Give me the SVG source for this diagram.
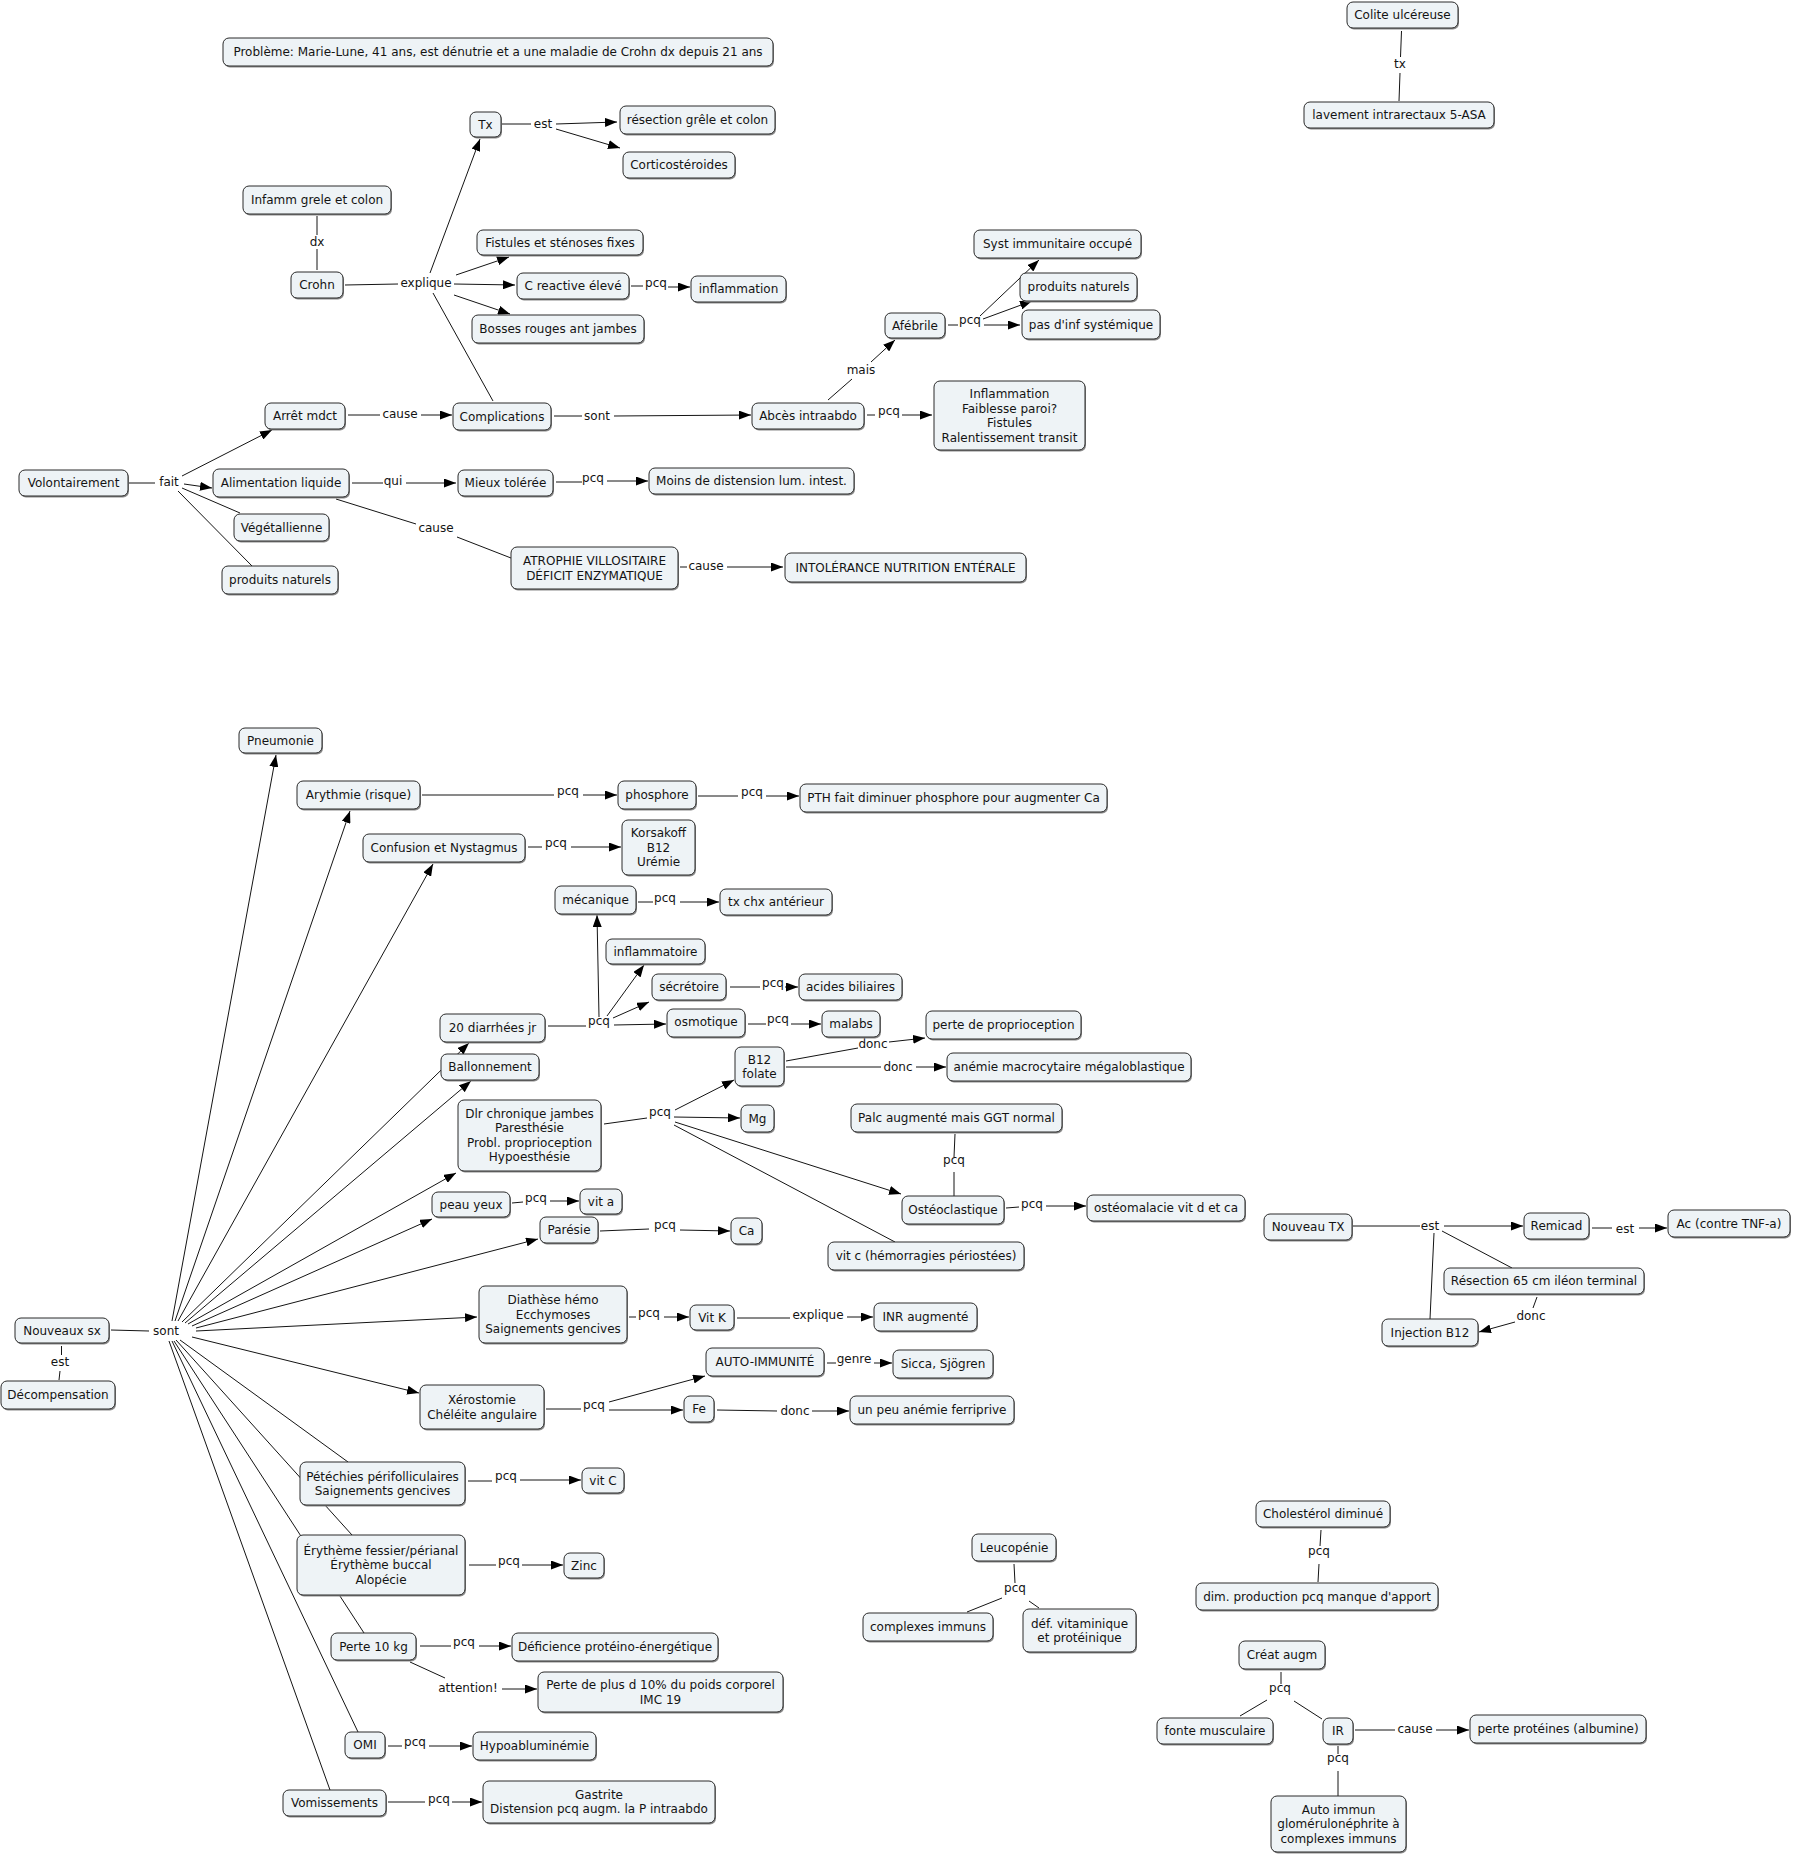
<svg xmlns="http://www.w3.org/2000/svg" width="1793" height="1855" viewBox="0 0 1793 1855">
<style>
text{font-family:"DejaVu Sans","Verdana",sans-serif;font-size:12px;fill:#141414}
.n text,.l{text-anchor:middle}
.b{fill:#EEF3F6;stroke:#2a2a2a;stroke-width:1}
.s{fill:#8a8a8a}
.c line{stroke:#141414;stroke-width:1;fill:none}
.c line.a{marker-end:url(#ar)}
</style>
<defs>
<marker id="ar" markerWidth="12" markerHeight="9" refX="12" refY="4.5" orient="auto" markerUnits="userSpaceOnUse"><path d="M0,0 L12,4.5 L0,9 z" fill="#000"/></marker>
</defs>
<rect width="1793" height="1855" fill="#fff"/>
<g id="connectors" class="c">
<line x1="502" y1="124" x2="531" y2="124"/>
<line class="a" x1="556" y1="124" x2="617" y2="122"/>
<line class="a" x1="556" y1="129" x2="620" y2="148"/>
<line x1="317" y1="216" x2="317" y2="235"/>
<line x1="317" y1="249" x2="317" y2="270"/>
<line x1="345" y1="285" x2="398" y2="284"/>
<line class="a" x1="430" y1="273" x2="480" y2="139"/>
<line class="a" x1="456" y1="275" x2="509" y2="257"/>
<line class="a" x1="454" y1="284" x2="515" y2="285"/>
<line class="a" x1="454" y1="295" x2="510" y2="314"/>
<line x1="493" y1="401" x2="433" y2="293"/>
<line x1="631" y1="286" x2="643" y2="286"/>
<line class="a" x1="668" y1="287" x2="690" y2="287"/>
<line x1="348" y1="415" x2="380" y2="415"/>
<line class="a" x1="421" y1="415" x2="452" y2="415"/>
<line x1="554" y1="416" x2="582" y2="416"/>
<line class="a" x1="614" y1="416" x2="751" y2="415"/>
<line x1="129" y1="483" x2="155" y2="483"/>
<line class="a" x1="182" y1="476" x2="272" y2="430"/>
<line class="a" x1="184" y1="484" x2="212" y2="488"/>
<line x1="182" y1="488" x2="240" y2="513"/>
<line x1="178" y1="491" x2="252" y2="566"/>
<line x1="352" y1="483" x2="383" y2="483"/>
<line class="a" x1="406" y1="483" x2="456" y2="483"/>
<line x1="556" y1="482" x2="582" y2="482"/>
<line class="a" x1="607" y1="481" x2="648" y2="481"/>
<line x1="336" y1="499" x2="416" y2="524"/>
<line x1="457" y1="537" x2="511" y2="558"/>
<line x1="680" y1="567" x2="687" y2="567"/>
<line class="a" x1="727" y1="567" x2="783" y2="567"/>
<line x1="828" y1="400" x2="852" y2="379"/>
<line class="a" x1="871" y1="362" x2="895" y2="340"/>
<line x1="867" y1="415" x2="875" y2="415"/>
<line class="a" x1="902" y1="415" x2="932" y2="415"/>
<line x1="948" y1="325" x2="958" y2="325"/>
<line class="a" x1="980" y1="316" x2="1039" y2="260"/>
<line class="a" x1="983" y1="319" x2="1032" y2="301"/>
<line class="a" x1="984" y1="325" x2="1020" y2="325"/>
<line x1="1401.5" y1="31" x2="1400.5" y2="57"/>
<line x1="1400" y1="73" x2="1399" y2="101"/>
<line x1="111" y1="1330" x2="149" y2="1331"/>
<line x1="61.5" y1="1346" x2="61.5" y2="1355"/>
<line x1="60" y1="1371" x2="59" y2="1380"/>
<line class="a" x1="172" y1="1321" x2="276" y2="755"/>
<line class="a" x1="175" y1="1321" x2="350" y2="811"/>
<line class="a" x1="178" y1="1321" x2="433" y2="864"/>
<line class="a" x1="182" y1="1322" x2="469" y2="1043"/>
<line class="a" x1="185" y1="1323" x2="471" y2="1081"/>
<line class="a" x1="188" y1="1324" x2="456" y2="1173"/>
<line class="a" x1="192" y1="1326" x2="432" y2="1219"/>
<line class="a" x1="196" y1="1328" x2="538" y2="1239"/>
<line class="a" x1="196" y1="1331" x2="477" y2="1317"/>
<line class="a" x1="192" y1="1337" x2="419" y2="1393"/>
<line x1="180" y1="1340" x2="348" y2="1462"/>
<line x1="176" y1="1340" x2="352" y2="1535"/>
<line x1="174" y1="1341" x2="364" y2="1633"/>
<line x1="172" y1="1341" x2="358" y2="1732"/>
<line x1="169" y1="1341" x2="330" y2="1790"/>
<line x1="422" y1="795" x2="554" y2="795"/>
<line class="a" x1="583" y1="795" x2="617" y2="795"/>
<line x1="698" y1="796" x2="738" y2="796"/>
<line class="a" x1="766" y1="796" x2="799" y2="796"/>
<line x1="528" y1="847" x2="542" y2="847"/>
<line class="a" x1="571" y1="847" x2="621" y2="847"/>
<line x1="638" y1="902" x2="653" y2="902"/>
<line class="a" x1="680" y1="902" x2="719" y2="902"/>
<line x1="548" y1="1026" x2="586" y2="1026"/>
<line class="a" x1="599" y1="1017" x2="597" y2="915"/>
<line class="a" x1="607" y1="1016" x2="644" y2="965"/>
<line class="a" x1="613" y1="1018" x2="649" y2="1002"/>
<line class="a" x1="614" y1="1025" x2="666" y2="1024"/>
<line x1="730" y1="987" x2="760" y2="987"/>
<line class="a" x1="785" y1="987" x2="798" y2="987"/>
<line x1="748" y1="1024" x2="766" y2="1024"/>
<line class="a" x1="791" y1="1024" x2="821" y2="1024"/>
<line x1="786" y1="1061" x2="858" y2="1048"/>
<line class="a" x1="889" y1="1042" x2="925" y2="1038"/>
<line x1="786" y1="1067" x2="881" y2="1067"/>
<line class="a" x1="916" y1="1067" x2="946" y2="1067"/>
<line x1="604" y1="1124" x2="647" y2="1118"/>
<line class="a" x1="675" y1="1110" x2="734" y2="1080"/>
<line class="a" x1="674" y1="1117" x2="740" y2="1118"/>
<line class="a" x1="675" y1="1122" x2="901" y2="1194"/>
<line x1="674" y1="1125" x2="895" y2="1242"/>
<line x1="955" y1="1134" x2="954" y2="1157"/>
<line x1="954" y1="1172" x2="954" y2="1196"/>
<line x1="1006" y1="1208" x2="1019" y2="1207"/>
<line class="a" x1="1046" y1="1206" x2="1086" y2="1206"/>
<line x1="512" y1="1203" x2="523" y2="1202"/>
<line class="a" x1="550" y1="1201" x2="579" y2="1201"/>
<line x1="600" y1="1231" x2="649" y2="1229"/>
<line class="a" x1="680" y1="1230" x2="730" y2="1231"/>
<line x1="629" y1="1317" x2="636" y2="1317"/>
<line class="a" x1="664" y1="1317" x2="689" y2="1317"/>
<line x1="737" y1="1318" x2="790" y2="1318"/>
<line class="a" x1="847" y1="1317" x2="873" y2="1317"/>
<line x1="546" y1="1409" x2="581" y2="1409"/>
<line class="a" x1="609" y1="1402" x2="705" y2="1376"/>
<line class="a" x1="609" y1="1410" x2="683" y2="1410"/>
<line x1="827" y1="1363" x2="836" y2="1363"/>
<line class="a" x1="874" y1="1363" x2="892" y2="1363"/>
<line x1="717" y1="1410" x2="777" y2="1411"/>
<line class="a" x1="812" y1="1411" x2="849" y2="1411"/>
<line x1="468" y1="1481" x2="492" y2="1481"/>
<line class="a" x1="520" y1="1480" x2="581" y2="1480"/>
<line x1="469" y1="1565" x2="496" y2="1565"/>
<line class="a" x1="522" y1="1565" x2="563" y2="1565"/>
<line x1="420" y1="1646" x2="451" y2="1646"/>
<line class="a" x1="479" y1="1646" x2="511" y2="1646"/>
<line x1="410" y1="1662" x2="445" y2="1678"/>
<line class="a" x1="502" y1="1689" x2="537" y2="1689"/>
<line x1="388" y1="1746" x2="402" y2="1746"/>
<line class="a" x1="429" y1="1746" x2="472" y2="1746"/>
<line x1="388" y1="1802" x2="425" y2="1802"/>
<line class="a" x1="452" y1="1802" x2="482" y2="1802"/>
<line x1="1353" y1="1226" x2="1420" y2="1226"/>
<line class="a" x1="1444" y1="1226" x2="1523" y2="1226"/>
<line x1="1442" y1="1231" x2="1512" y2="1268"/>
<line x1="1434" y1="1233" x2="1430" y2="1319"/>
<line x1="1592" y1="1228" x2="1612" y2="1228"/>
<line class="a" x1="1639" y1="1228" x2="1667" y2="1228"/>
<line x1="1537" y1="1297" x2="1533" y2="1308"/>
<line class="a" x1="1515" y1="1322" x2="1479" y2="1332"/>
<line x1="1014" y1="1564" x2="1015" y2="1583"/>
<line x1="1002" y1="1598" x2="967" y2="1612"/>
<line x1="1029" y1="1601" x2="1039" y2="1608"/>
<line x1="1321" y1="1530" x2="1320" y2="1546"/>
<line x1="1319" y1="1564" x2="1318" y2="1582"/>
<line x1="1281" y1="1672" x2="1281" y2="1684"/>
<line x1="1267" y1="1700" x2="1240" y2="1716"/>
<line x1="1294" y1="1701" x2="1322" y2="1719"/>
<line x1="1355" y1="1730" x2="1395" y2="1730"/>
<line class="a" x1="1436" y1="1730" x2="1469" y2="1730"/>
<line x1="1338" y1="1746" x2="1338" y2="1754"/>
<line x1="1338" y1="1771" x2="1338" y2="1796"/>
</g>
<g id="labels" class="l">
<text class="l" x="543" y="128">est</text>
<text class="l" x="317" y="246">dx</text>
<text class="l" x="426" y="287">explique</text>
<text class="l" x="656" y="287">pcq</text>
<text class="l" x="400" y="418">cause</text>
<text class="l" x="597" y="420">sont</text>
<text class="l" x="169" y="486">fait</text>
<text class="l" x="393" y="485">qui</text>
<text class="l" x="593" y="482">pcq</text>
<text class="l" x="436" y="532">cause</text>
<text class="l" x="706" y="570">cause</text>
<text class="l" x="861" y="374">mais</text>
<text class="l" x="889" y="415">pcq</text>
<text class="l" x="970" y="324">pcq</text>
<text class="l" x="1400" y="68">tx</text>
<text class="l" x="568" y="795">pcq</text>
<text class="l" x="752" y="796">pcq</text>
<text class="l" x="556" y="847">pcq</text>
<text class="l" x="665" y="902">pcq</text>
<text class="l" x="599" y="1025">pcq</text>
<text class="l" x="773" y="987">pcq</text>
<text class="l" x="778" y="1023">pcq</text>
<text class="l" x="873" y="1048">donc</text>
<text class="l" x="898" y="1071">donc</text>
<text class="l" x="660" y="1116">pcq</text>
<text class="l" x="954" y="1164">pcq</text>
<text class="l" x="1032" y="1208">pcq</text>
<text class="l" x="536" y="1202">pcq</text>
<text class="l" x="665" y="1229">pcq</text>
<text class="l" x="649" y="1317">pcq</text>
<text class="l" x="818" y="1319">explique</text>
<text class="l" x="60" y="1366">est</text>
<text class="l" x="166" y="1335">sont</text>
<text class="l" x="854" y="1363">genre</text>
<text class="l" x="594" y="1409">pcq</text>
<text class="l" x="795" y="1415">donc</text>
<text class="l" x="506" y="1480">pcq</text>
<text class="l" x="509" y="1565">pcq</text>
<text class="l" x="464" y="1646">pcq</text>
<text class="l" x="468" y="1692">attention!</text>
<text class="l" x="415" y="1746">pcq</text>
<text class="l" x="439" y="1803">pcq</text>
<text class="l" x="1430" y="1230">est</text>
<text class="l" x="1625" y="1233">est</text>
<text class="l" x="1531" y="1320">donc</text>
<text class="l" x="1015" y="1592">pcq</text>
<text class="l" x="1319" y="1555">pcq</text>
<text class="l" x="1280" y="1692">pcq</text>
<text class="l" x="1415" y="1733">cause</text>
<text class="l" x="1338" y="1762">pcq</text>
</g>
<g id="n_probleme" class="n"><rect class="s" x="224" y="39.5" width="550" height="28" rx="6"/><rect class="b" x="223" y="38" width="550" height="28" rx="6"/><text x="498" y="56.4">Problème: Marie-Lune, 41 ans, est dénutrie et a une maladie de Crohn dx depuis 21 ans</text></g>
<g id="n_tx" class="n"><rect class="s" x="471" y="113.5" width="31" height="25" rx="6"/><rect class="b" x="470" y="112" width="31" height="25" rx="6"/><text x="485.5" y="129">Tx</text></g>
<g id="n_resection" class="n"><rect class="s" x="621" y="107.5" width="155" height="28" rx="6"/><rect class="b" x="620" y="106" width="155" height="28" rx="6"/><text x="697.5" y="124.4">résection grêle et colon</text></g>
<g id="n_cortico" class="n"><rect class="s" x="624" y="153.5" width="112" height="26" rx="6"/><rect class="b" x="623" y="152" width="112" height="26" rx="6"/><text x="679" y="169.4">Corticostéroides</text></g>
<g id="n_infamm" class="n"><rect class="s" x="244" y="187.5" width="148" height="28" rx="6"/><rect class="b" x="243" y="186" width="148" height="28" rx="6"/><text x="317" y="204.4">Infamm grele et colon</text></g>
<g id="n_crohn" class="n"><rect class="s" x="292" y="273.5" width="52" height="26" rx="6"/><rect class="b" x="291" y="272" width="52" height="26" rx="6"/><text x="317" y="289.4">Crohn</text></g>
<g id="n_fistules" class="n"><rect class="s" x="478" y="231.5" width="166" height="25" rx="6"/><rect class="b" x="477" y="230" width="166" height="25" rx="6"/><text x="560" y="247">Fistules et sténoses fixes</text></g>
<g id="n_creactive" class="n"><rect class="s" x="518" y="274.5" width="112" height="26" rx="6"/><rect class="b" x="517" y="273" width="112" height="26" rx="6"/><text x="573" y="290.4">C reactive élevé</text></g>
<g id="n_inflammation" class="n"><rect class="s" x="692" y="277.5" width="95" height="26" rx="6"/><rect class="b" x="691" y="276" width="95" height="26" rx="6"/><text x="738.5" y="293.4">inflammation</text></g>
<g id="n_bosses" class="n"><rect class="s" x="473" y="316.5" width="172" height="28" rx="6"/><rect class="b" x="472" y="315" width="172" height="28" rx="6"/><text x="558" y="333.4">Bosses rouges ant jambes</text></g>
<g id="n_arret" class="n"><rect class="s" x="266" y="404.5" width="80" height="26" rx="6"/><rect class="b" x="265" y="403" width="80" height="26" rx="6"/><text x="305" y="420.4">Arrêt mdct</text></g>
<g id="n_complications" class="n"><rect class="s" x="454" y="404.5" width="98" height="27" rx="6"/><rect class="b" x="453" y="403" width="98" height="27" rx="6"/><text x="502" y="421">Complications</text></g>
<g id="n_abces" class="n"><rect class="s" x="753" y="404.5" width="112" height="26" rx="6"/><rect class="b" x="752" y="403" width="112" height="26" rx="6"/><text x="808" y="420.4">Abcès intraabdo</text></g>
<g id="n_inflam4" class="n"><rect class="s" x="935" y="382.5" width="151" height="69" rx="6"/><rect class="b" x="934" y="381" width="151" height="69" rx="6"/><text x="1009.5" y="398.2">Inflammation<tspan x="1009.5" dy="14.5">Faiblesse paroi?</tspan><tspan x="1009.5" dy="14.5">Fistules</tspan><tspan x="1009.5" dy="14.5">Ralentissement transit</tspan></text></g>
<g id="n_afebrile" class="n"><rect class="s" x="886" y="314.5" width="60" height="25" rx="6"/><rect class="b" x="885" y="313" width="60" height="25" rx="6"/><text x="915" y="330">Afébrile</text></g>
<g id="n_syst" class="n"><rect class="s" x="975" y="231.5" width="167" height="28" rx="6"/><rect class="b" x="974" y="230" width="167" height="28" rx="6"/><text x="1057.5" y="248.4">Syst immunitaire occupé</text></g>
<g id="n_prodnat2" class="n"><rect class="s" x="1021" y="274.5" width="117" height="28" rx="6"/><rect class="b" x="1020" y="273" width="117" height="28" rx="6"/><text x="1078.5" y="291.4">produits naturels</text></g>
<g id="n_pasdinf" class="n"><rect class="s" x="1023" y="311.5" width="138" height="29" rx="6"/><rect class="b" x="1022" y="310" width="138" height="29" rx="6"/><text x="1091" y="329">pas d'inf systémique</text></g>
<g id="n_volontairement" class="n"><rect class="s" x="20" y="471.5" width="109" height="26" rx="6"/><rect class="b" x="19" y="470" width="109" height="26" rx="6"/><text x="73.5" y="487.4">Volontairement</text></g>
<g id="n_alimentation" class="n"><rect class="s" x="214" y="470.5" width="136" height="28" rx="6"/><rect class="b" x="213" y="469" width="136" height="28" rx="6"/><text x="281" y="487.4">Alimentation liquide</text></g>
<g id="n_mieux" class="n"><rect class="s" x="459" y="471.5" width="95" height="26" rx="6"/><rect class="b" x="458" y="470" width="95" height="26" rx="6"/><text x="505.5" y="487.4">Mieux tolérée</text></g>
<g id="n_moins" class="n"><rect class="s" x="650" y="469.5" width="205" height="26" rx="6"/><rect class="b" x="649" y="468" width="205" height="26" rx="6"/><text x="751.5" y="485.4">Moins de distension lum. intest.</text></g>
<g id="n_vegetal" class="n"><rect class="s" x="235" y="515.5" width="95" height="27" rx="6"/><rect class="b" x="234" y="514" width="95" height="27" rx="6"/><text x="281.5" y="532">Végétallienne</text></g>
<g id="n_prodnat1" class="n"><rect class="s" x="223" y="567.5" width="116" height="28" rx="6"/><rect class="b" x="222" y="566" width="116" height="28" rx="6"/><text x="280" y="584.4">produits naturels</text></g>
<g id="n_atrophie" class="n"><rect class="s" x="512" y="548.5" width="167" height="42" rx="6"/><rect class="b" x="511" y="547" width="167" height="42" rx="6"/><text x="594.5" y="565.2">ATROPHIE VILLOSITAIRE<tspan x="594.5" dy="14.5">DÉFICIT ENZYMATIQUE</tspan></text></g>
<g id="n_intolerance" class="n"><rect class="s" x="786" y="554.5" width="241" height="29" rx="6"/><rect class="b" x="785" y="553" width="241" height="29" rx="6"/><text x="905.5" y="572">INTOLÉRANCE NUTRITION ENTÉRALE</text></g>
<g id="n_colite" class="n"><rect class="s" x="1348" y="3.5" width="111" height="26" rx="6"/><rect class="b" x="1347" y="2" width="111" height="26" rx="6"/><text x="1402.5" y="19.4">Colite ulcéreuse</text></g>
<g id="n_lavement" class="n"><rect class="s" x="1305" y="103.5" width="190" height="26" rx="6"/><rect class="b" x="1304" y="102" width="190" height="26" rx="6"/><text x="1399" y="119.4">lavement intrarectaux 5-ASA</text></g>
<g id="n_pneumonie" class="n"><rect class="s" x="240" y="729.5" width="83" height="25" rx="6"/><rect class="b" x="239" y="728" width="83" height="25" rx="6"/><text x="280.5" y="745">Pneumonie</text></g>
<g id="n_arythmie" class="n"><rect class="s" x="298" y="782.5" width="123" height="28" rx="6"/><rect class="b" x="297" y="781" width="123" height="28" rx="6"/><text x="358.5" y="799.4">Arythmie (risque)</text></g>
<g id="n_phosphore" class="n"><rect class="s" x="619" y="782.5" width="78" height="28" rx="6"/><rect class="b" x="618" y="781" width="78" height="28" rx="6"/><text x="657" y="799.4">phosphore</text></g>
<g id="n_pth" class="n"><rect class="s" x="801" y="785.5" width="307" height="28" rx="6"/><rect class="b" x="800" y="784" width="307" height="28" rx="6"/><text x="953.5" y="802.4">PTH fait diminuer phosphore pour augmenter Ca</text></g>
<g id="n_confusion" class="n"><rect class="s" x="364" y="835.5" width="162" height="28" rx="6"/><rect class="b" x="363" y="834" width="162" height="28" rx="6"/><text x="444" y="852.4">Confusion et Nystagmus</text></g>
<g id="n_korsakoff" class="n"><rect class="s" x="623" y="821.5" width="73" height="55" rx="6"/><rect class="b" x="622" y="820" width="73" height="55" rx="6"/><text x="658.5" y="837.4">Korsakoff<tspan x="658.5" dy="14.5">B12</tspan><tspan x="658.5" dy="14.5">Urémie</tspan></text></g>
<g id="n_mecanique" class="n"><rect class="s" x="556" y="887.5" width="81" height="28" rx="6"/><rect class="b" x="555" y="886" width="81" height="28" rx="6"/><text x="595.5" y="904.4">mécanique</text></g>
<g id="n_txchx" class="n"><rect class="s" x="721" y="890.5" width="112" height="26" rx="6"/><rect class="b" x="720" y="889" width="112" height="26" rx="6"/><text x="776" y="906.4">tx chx antérieur</text></g>
<g id="n_inflammatoire" class="n"><rect class="s" x="607" y="940.5" width="99" height="25" rx="6"/><rect class="b" x="606" y="939" width="99" height="25" rx="6"/><text x="655.5" y="956">inflammatoire</text></g>
<g id="n_secretoire" class="n"><rect class="s" x="653" y="975.5" width="74" height="26" rx="6"/><rect class="b" x="652" y="974" width="74" height="26" rx="6"/><text x="689" y="991.4">sécrétoire</text></g>
<g id="n_acides" class="n"><rect class="s" x="800" y="975.5" width="103" height="26" rx="6"/><rect class="b" x="799" y="974" width="103" height="26" rx="6"/><text x="850.5" y="991.4">acides biliaires</text></g>
<g id="n_osmotique" class="n"><rect class="s" x="668" y="1010.5" width="78" height="28" rx="6"/><rect class="b" x="667" y="1009" width="78" height="28" rx="6"/><text x="706" y="1026.4">osmotique</text></g>
<g id="n_malabs" class="n"><rect class="s" x="823" y="1012.5" width="58" height="26" rx="6"/><rect class="b" x="822" y="1011" width="58" height="26" rx="6"/><text x="851" y="1028.4">malabs</text></g>
<g id="n_perteprop" class="n"><rect class="s" x="927" y="1012.5" width="155" height="28" rx="6"/><rect class="b" x="926" y="1011" width="155" height="28" rx="6"/><text x="1003.5" y="1029.4">perte de proprioception</text></g>
<g id="n_diarrhees" class="n"><rect class="s" x="441" y="1015.5" width="105" height="28" rx="6"/><rect class="b" x="440" y="1014" width="105" height="28" rx="6"/><text x="492.5" y="1032.4">20 diarrhées jr</text></g>
<g id="n_ballon" class="n"><rect class="s" x="442" y="1055.5" width="98" height="26" rx="6"/><rect class="b" x="441" y="1054" width="98" height="26" rx="6"/><text x="490" y="1071.4">Ballonnement</text></g>
<g id="n_b12" class="n"><rect class="s" x="736" y="1048.5" width="49" height="39" rx="6"/><rect class="b" x="735" y="1047" width="49" height="39" rx="6"/><text x="759.5" y="1063.7">B12<tspan x="759.5" dy="14.5">folate</tspan></text></g>
<g id="n_anemie" class="n"><rect class="s" x="948" y="1054.5" width="244" height="28" rx="6"/><rect class="b" x="947" y="1053" width="244" height="28" rx="6"/><text x="1069" y="1071.4">anémie macrocytaire mégaloblastique</text></g>
<g id="n_dlr" class="n"><rect class="s" x="459" y="1101.5" width="143" height="71" rx="6"/><rect class="b" x="458" y="1100" width="143" height="71" rx="6"/><text x="529.5" y="1117.5">Dlr chronique jambes<tspan x="529.5" dy="14.5">Paresthésie</tspan><tspan x="529.5" dy="14.5">Probl. proprioception</tspan><tspan x="529.5" dy="14.5">Hypoesthésie</tspan></text></g>
<g id="n_mg" class="n"><rect class="s" x="742" y="1106.5" width="33" height="27" rx="6"/><rect class="b" x="741" y="1105" width="33" height="27" rx="6"/><text x="757.5" y="1123">Mg</text></g>
<g id="n_palc" class="n"><rect class="s" x="852" y="1105.5" width="211" height="28" rx="6"/><rect class="b" x="851" y="1104" width="211" height="28" rx="6"/><text x="956.5" y="1122.4">Palc augmenté mais GGT normal</text></g>
<g id="n_peau" class="n"><rect class="s" x="433" y="1193.5" width="78" height="25" rx="6"/><rect class="b" x="432" y="1192" width="78" height="25" rx="6"/><text x="471" y="1209">peau yeux</text></g>
<g id="n_vita" class="n"><rect class="s" x="581" y="1190.5" width="42" height="25" rx="6"/><rect class="b" x="580" y="1189" width="42" height="25" rx="6"/><text x="601" y="1206">vit a</text></g>
<g id="n_osteo" class="n"><rect class="s" x="903" y="1197.5" width="102" height="28" rx="6"/><rect class="b" x="902" y="1196" width="102" height="28" rx="6"/><text x="953" y="1214.4">Ostéoclastique</text></g>
<g id="n_osteomal" class="n"><rect class="s" x="1088" y="1196.5" width="158" height="26" rx="6"/><rect class="b" x="1087" y="1195" width="158" height="26" rx="6"/><text x="1166" y="1212.4">ostéomalacie vit d et ca</text></g>
<g id="n_paresie" class="n"><rect class="s" x="541" y="1218.5" width="58" height="26" rx="6"/><rect class="b" x="540" y="1217" width="58" height="26" rx="6"/><text x="569" y="1234.4">Parésie</text></g>
<g id="n_ca" class="n"><rect class="s" x="732" y="1219.5" width="31" height="26" rx="6"/><rect class="b" x="731" y="1218" width="31" height="26" rx="6"/><text x="746.5" y="1235.4">Ca</text></g>
<g id="n_vitc2" class="n"><rect class="s" x="829" y="1243.5" width="196" height="28" rx="6"/><rect class="b" x="828" y="1242" width="196" height="28" rx="6"/><text x="926" y="1260.4">vit c (hémorragies périostées)</text></g>
<g id="n_diathese" class="n"><rect class="s" x="480" y="1287.5" width="148" height="57" rx="6"/><rect class="b" x="479" y="1286" width="148" height="57" rx="6"/><text x="553" y="1304">Diathèse hémo<tspan x="553" dy="14.5">Ecchymoses</tspan><tspan x="553" dy="14.5">Saignements gencives</tspan></text></g>
<g id="n_vitk" class="n"><rect class="s" x="691" y="1306.5" width="44" height="25" rx="6"/><rect class="b" x="690" y="1305" width="44" height="25" rx="6"/><text x="712" y="1322">Vit K</text></g>
<g id="n_inr" class="n"><rect class="s" x="875" y="1304.5" width="103" height="28" rx="6"/><rect class="b" x="874" y="1303" width="103" height="28" rx="6"/><text x="925.5" y="1321.4">INR augmenté</text></g>
<g id="n_nouveauxsx" class="n"><rect class="s" x="16" y="1319.5" width="94" height="25" rx="6"/><rect class="b" x="15" y="1318" width="94" height="25" rx="6"/><text x="62" y="1335">Nouveaux sx</text></g>
<g id="n_decomp" class="n"><rect class="s" x="2" y="1382.5" width="114" height="28" rx="6"/><rect class="b" x="1" y="1381" width="114" height="28" rx="6"/><text x="58" y="1399.4">Décompensation</text></g>
<g id="n_auto" class="n"><rect class="s" x="707" y="1349.5" width="118" height="28" rx="6"/><rect class="b" x="706" y="1348" width="118" height="28" rx="6"/><text x="765" y="1366.4">AUTO-IMMUNITÉ</text></g>
<g id="n_sicca" class="n"><rect class="s" x="894" y="1351.5" width="100" height="28" rx="6"/><rect class="b" x="893" y="1350" width="100" height="28" rx="6"/><text x="943" y="1368.4">Sicca, Sjögren</text></g>
<g id="n_xero" class="n"><rect class="s" x="421" y="1386.5" width="124" height="44" rx="6"/><rect class="b" x="420" y="1385" width="124" height="44" rx="6"/><text x="482" y="1404.2">Xérostomie<tspan x="482" dy="14.5">Chéléite angulaire</tspan></text></g>
<g id="n_fe" class="n"><rect class="s" x="685" y="1397.5" width="30" height="26" rx="6"/><rect class="b" x="684" y="1396" width="30" height="26" rx="6"/><text x="699" y="1413.4">Fe</text></g>
<g id="n_anemiefer" class="n"><rect class="s" x="851" y="1397.5" width="164" height="28" rx="6"/><rect class="b" x="850" y="1396" width="164" height="28" rx="6"/><text x="932" y="1414.4">un peu anémie ferriprive</text></g>
<g id="n_petechies" class="n"><rect class="s" x="301" y="1463.5" width="165" height="43" rx="6"/><rect class="b" x="300" y="1462" width="165" height="43" rx="6"/><text x="382.5" y="1480.6">Pétéchies périfolliculaires<tspan x="382.5" dy="14.5">Saignements gencives</tspan></text></g>
<g id="n_vitC" class="n"><rect class="s" x="583" y="1469.5" width="42" height="25" rx="6"/><rect class="b" x="582" y="1468" width="42" height="25" rx="6"/><text x="603" y="1485">vit C</text></g>
<g id="n_erytheme" class="n"><rect class="s" x="298" y="1536.5" width="168" height="60" rx="6"/><rect class="b" x="297" y="1535" width="168" height="60" rx="6"/><text x="381" y="1554.9">Érythème fessier/périanal<tspan x="381" dy="14.5">Érythème buccal</tspan><tspan x="381" dy="14.5">Alopécie</tspan></text></g>
<g id="n_zinc" class="n"><rect class="s" x="565" y="1554.5" width="40" height="25" rx="6"/><rect class="b" x="564" y="1553" width="40" height="25" rx="6"/><text x="584" y="1570">Zinc</text></g>
<g id="n_perte10" class="n"><rect class="s" x="332" y="1634.5" width="85" height="27" rx="6"/><rect class="b" x="331" y="1633" width="85" height="27" rx="6"/><text x="373.5" y="1651">Perte 10 kg</text></g>
<g id="n_deficience" class="n"><rect class="s" x="513" y="1634.5" width="206" height="28" rx="6"/><rect class="b" x="512" y="1633" width="206" height="28" rx="6"/><text x="615" y="1651.4">Déficience protéino-énergétique</text></g>
<g id="n_perteplus" class="n"><rect class="s" x="539" y="1673.5" width="245" height="40" rx="6"/><rect class="b" x="538" y="1672" width="245" height="40" rx="6"/><text x="660.5" y="1689.2">Perte de plus d 10% du poids corporel<tspan x="660.5" dy="14.5">IMC 19</tspan></text></g>
<g id="n_omi" class="n"><rect class="s" x="346" y="1733.5" width="40" height="26" rx="6"/><rect class="b" x="345" y="1732" width="40" height="26" rx="6"/><text x="365" y="1749.4">OMI</text></g>
<g id="n_hypo" class="n"><rect class="s" x="474" y="1733.5" width="123" height="28" rx="6"/><rect class="b" x="473" y="1732" width="123" height="28" rx="6"/><text x="534.5" y="1750.4">Hypoabluminémie</text></g>
<g id="n_vomis" class="n"><rect class="s" x="284" y="1791.5" width="103" height="26" rx="6"/><rect class="b" x="283" y="1790" width="103" height="26" rx="6"/><text x="334.5" y="1807.4">Vomissements</text></g>
<g id="n_gastrite" class="n"><rect class="s" x="484" y="1782.5" width="232" height="42" rx="6"/><rect class="b" x="483" y="1781" width="232" height="42" rx="6"/><text x="599" y="1798.5">Gastrite<tspan x="599" dy="14.5">Distension pcq augm. la P intraabdo</tspan></text></g>
<g id="n_nouveautx" class="n"><rect class="s" x="1265" y="1215.5" width="88" height="26" rx="6"/><rect class="b" x="1264" y="1214" width="88" height="26" rx="6"/><text x="1308" y="1231.4">Nouveau TX</text></g>
<g id="n_remicad" class="n"><rect class="s" x="1525" y="1214.5" width="65" height="26" rx="6"/><rect class="b" x="1524" y="1213" width="65" height="26" rx="6"/><text x="1556.5" y="1230.4">Remicad</text></g>
<g id="n_ac" class="n"><rect class="s" x="1669" y="1211.5" width="122" height="27" rx="6"/><rect class="b" x="1668" y="1210" width="122" height="27" rx="6"/><text x="1729" y="1228">Ac (contre TNF-a)</text></g>
<g id="n_resection65" class="n"><rect class="s" x="1445" y="1269.5" width="200" height="26" rx="6"/><rect class="b" x="1444" y="1268" width="200" height="26" rx="6"/><text x="1544" y="1285.4">Résection 65 cm iléon terminal</text></g>
<g id="n_injection" class="n"><rect class="s" x="1383" y="1320.5" width="96" height="27" rx="6"/><rect class="b" x="1382" y="1319" width="96" height="27" rx="6"/><text x="1430" y="1337">Injection B12</text></g>
<g id="n_leuco" class="n"><rect class="s" x="973" y="1535.5" width="84" height="27" rx="6"/><rect class="b" x="972" y="1534" width="84" height="27" rx="6"/><text x="1014" y="1552">Leucopénie</text></g>
<g id="n_complexes" class="n"><rect class="s" x="864" y="1614.5" width="130" height="28" rx="6"/><rect class="b" x="863" y="1613" width="130" height="28" rx="6"/><text x="928" y="1631.4">complexes immuns</text></g>
<g id="n_defvit" class="n"><rect class="s" x="1024" y="1610.5" width="113" height="43" rx="6"/><rect class="b" x="1023" y="1609" width="113" height="43" rx="6"/><text x="1079.5" y="1627.7">déf. vitaminique<tspan x="1079.5" dy="14.5">et protéinique</tspan></text></g>
<g id="n_chol" class="n"><rect class="s" x="1257" y="1502.5" width="134" height="26" rx="6"/><rect class="b" x="1256" y="1501" width="134" height="26" rx="6"/><text x="1323" y="1518.4">Cholestérol diminué</text></g>
<g id="n_dim" class="n"><rect class="s" x="1197" y="1584.5" width="242" height="27" rx="6"/><rect class="b" x="1196" y="1583" width="242" height="27" rx="6"/><text x="1317" y="1601">dim. production pcq manque d'apport</text></g>
<g id="n_creat" class="n"><rect class="s" x="1240" y="1642.5" width="86" height="28" rx="6"/><rect class="b" x="1239" y="1641" width="86" height="28" rx="6"/><text x="1282" y="1659.4">Créat augm</text></g>
<g id="n_fonte" class="n"><rect class="s" x="1158" y="1719.5" width="116" height="26" rx="6"/><rect class="b" x="1157" y="1718" width="116" height="26" rx="6"/><text x="1215" y="1735.4">fonte musculaire</text></g>
<g id="n_ir" class="n"><rect class="s" x="1324" y="1719.5" width="30" height="26" rx="6"/><rect class="b" x="1323" y="1718" width="30" height="26" rx="6"/><text x="1338" y="1735.4">IR</text></g>
<g id="n_perteprot" class="n"><rect class="s" x="1471" y="1716.5" width="176" height="28" rx="6"/><rect class="b" x="1470" y="1715" width="176" height="28" rx="6"/><text x="1558" y="1733.4">perte protéines (albumine)</text></g>
<g id="n_autoimmun" class="n"><rect class="s" x="1272" y="1797.5" width="135" height="56" rx="6"/><rect class="b" x="1271" y="1796" width="135" height="56" rx="6"/><text x="1338.5" y="1813.9">Auto immun<tspan x="1338.5" dy="14.5">glomérulonéphrite à</tspan><tspan x="1338.5" dy="14.5">complexes immuns</tspan></text></g>
</svg>
